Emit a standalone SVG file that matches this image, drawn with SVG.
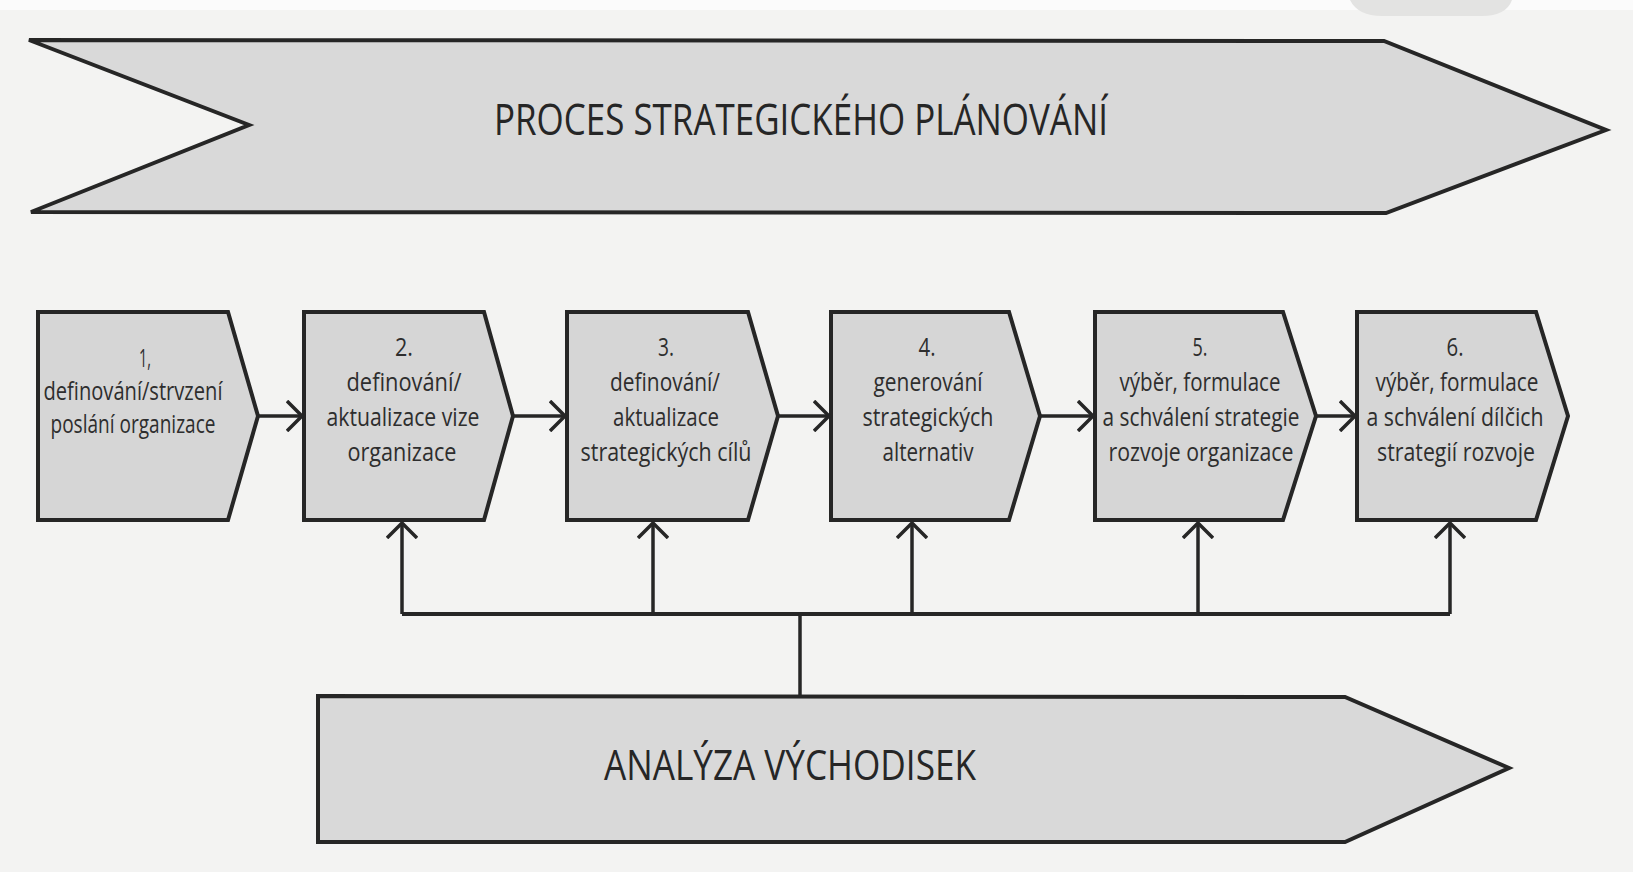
<svg xmlns="http://www.w3.org/2000/svg" width="1633" height="872" viewBox="0 0 1633 872">
  <defs>
    <style>
      .bg { fill: #f3f3f2; }
      .band { fill: #d9d9d9; stroke: #262626; stroke-width: 4; stroke-linejoin: miter; }
      .step { fill: #d6d6d6; stroke: #262626; stroke-width: 4; stroke-linejoin: miter; }
      .title { font-family: "Open Sans", "Liberation Sans", sans-serif; font-size: 44px; fill: #262626; }
      .lbl { font-family: "Open Sans", "Liberation Sans", sans-serif; font-size: 26px; fill: #2e2e2e; text-anchor: middle; }
      .wire { fill: none; stroke: #262626; stroke-width: 3.5; }
      .bus { fill: none; stroke: #262626; stroke-width: 4; }
    </style>
    <marker id="chev" viewBox="0 0 18 32" refX="16" refY="16" markerWidth="18" markerHeight="32" markerUnits="userSpaceOnUse" orient="auto">
      <path d="M1,1 L16,16 L1,31" fill="none" stroke="#262626" stroke-width="3.5"/>
    </marker>
  </defs>

  <!-- page -->
  <rect class="bg" x="0" y="0" width="1633" height="872"/>
  <rect x="0" y="0" width="1633" height="10" fill="#fbfbfb"/>
  <path d="M1350,0 Q1358,16 1382,16 H1482 Q1506,16 1512,0 Z" fill="#e3e3e2"/>

  <!-- upper band: planning process -->
  <g id="proces">
    <polygon class="band" points="29,40 1384,41 1606,130 1386,213 31,212 249,125"/>
    <text class="title" x="494" y="135" textLength="614" lengthAdjust="spacingAndGlyphs">PROCES STRATEGICKÉHO PLÁNOVÁNÍ</text>
  </g>

  <!-- steps -->
  <g id="step1">
    <polygon class="step" points="38,312 228,312 258,416 228,520 38,520"/>
    <text class="lbl" x="145" y="367" textLength="12" lengthAdjust="spacingAndGlyphs">1,</text>
    <text class="lbl" x="133" y="400" textLength="179" lengthAdjust="spacingAndGlyphs">definování/strvzení</text>
    <text class="lbl" x="133" y="433" textLength="165" lengthAdjust="spacingAndGlyphs">poslání organizace</text>
  </g>
  <g id="step2">
    <polygon class="step" points="304,312 484,312 513,416 484,520 304,520"/>
    <text class="lbl" x="404" y="356" textLength="18" lengthAdjust="spacingAndGlyphs">2.</text>
    <text class="lbl" x="404" y="391" textLength="115" lengthAdjust="spacingAndGlyphs">definování/</text>
    <text class="lbl" x="403" y="426" textLength="153" lengthAdjust="spacingAndGlyphs">aktualizace vize</text>
    <text class="lbl" x="402" y="461" textLength="109" lengthAdjust="spacingAndGlyphs">organizace</text>
  </g>
  <g id="step3">
    <polygon class="step" points="567,312 748,312 778,416 748,520 567,520"/>
    <text class="lbl" x="666" y="356" textLength="16" lengthAdjust="spacingAndGlyphs">3.</text>
    <text class="lbl" x="665" y="391" textLength="110" lengthAdjust="spacingAndGlyphs">definování/</text>
    <text class="lbl" x="666" y="426" textLength="106" lengthAdjust="spacingAndGlyphs">aktualizace</text>
    <text class="lbl" x="666" y="461" textLength="171" lengthAdjust="spacingAndGlyphs">strategických cílů</text>
  </g>
  <g id="step4">
    <polygon class="step" points="831,312 1009,312 1040,416 1009,520 831,520"/>
    <text class="lbl" x="927" y="356" textLength="17" lengthAdjust="spacingAndGlyphs">4.</text>
    <text class="lbl" x="928" y="391" textLength="109" lengthAdjust="spacingAndGlyphs">generování</text>
    <text class="lbl" x="928" y="426" textLength="131" lengthAdjust="spacingAndGlyphs">strategických</text>
    <text class="lbl" x="928" y="461" textLength="91" lengthAdjust="spacingAndGlyphs">alternativ</text>
  </g>
  <g id="step5">
    <polygon class="step" points="1095,312 1283,312 1316,416 1283,520 1095,520"/>
    <text class="lbl" x="1200" y="356" textLength="15" lengthAdjust="spacingAndGlyphs">5.</text>
    <text class="lbl" x="1200" y="391" textLength="161" lengthAdjust="spacingAndGlyphs">výběr, formulace</text>
    <text class="lbl" x="1201" y="426" textLength="197" lengthAdjust="spacingAndGlyphs">a schválení strategie</text>
    <text class="lbl" x="1201" y="461" textLength="185" lengthAdjust="spacingAndGlyphs">rozvoje organizace</text>
  </g>
  <g id="step6">
    <polygon class="step" points="1357,312 1536,312 1568,416 1536,520 1357,520"/>
    <text class="lbl" x="1455" y="356" textLength="17" lengthAdjust="spacingAndGlyphs">6.</text>
    <text class="lbl" x="1457" y="391" textLength="163" lengthAdjust="spacingAndGlyphs">výběr, formulace</text>
    <text class="lbl" x="1455" y="426" textLength="177" lengthAdjust="spacingAndGlyphs">a schválení dílčich</text>
    <text class="lbl" x="1456" y="461" textLength="158" lengthAdjust="spacingAndGlyphs">strategií rozvoje</text>
  </g>

  <!-- lower band: baseline analysis -->
  <g id="analyza">
    <polygon class="band" points="318,696 1345,697 1509,768 1345,842 318,842"/>
    <text class="title" x="604" y="780" font-size="42" textLength="372" lengthAdjust="spacingAndGlyphs" style="font-size:42px">ANALÝZA VÝCHODISEK</text>
  </g>

  <!-- connectors -->
  <g id="connectors">
    <path class="wire" d="M258,416 H302" marker-end="url(#chev)"/>
    <path class="wire" d="M513,416 H565" marker-end="url(#chev)"/>
    <path class="wire" d="M778,416 H829" marker-end="url(#chev)"/>
    <path class="wire" d="M1040,416 H1093" marker-end="url(#chev)"/>
    <path class="wire" d="M1316,416 H1355" marker-end="url(#chev)"/>

    <path class="bus" d="M402,614 H1450"/>
    <path class="wire" d="M800,696 V614"/>
    <path class="wire" d="M402,614 V523" marker-end="url(#chev)"/>
    <path class="wire" d="M653,614 V523" marker-end="url(#chev)"/>
    <path class="wire" d="M912,614 V523" marker-end="url(#chev)"/>
    <path class="wire" d="M1198,614 V523" marker-end="url(#chev)"/>
    <path class="wire" d="M1450,614 V523" marker-end="url(#chev)"/>
  </g>
</svg>
